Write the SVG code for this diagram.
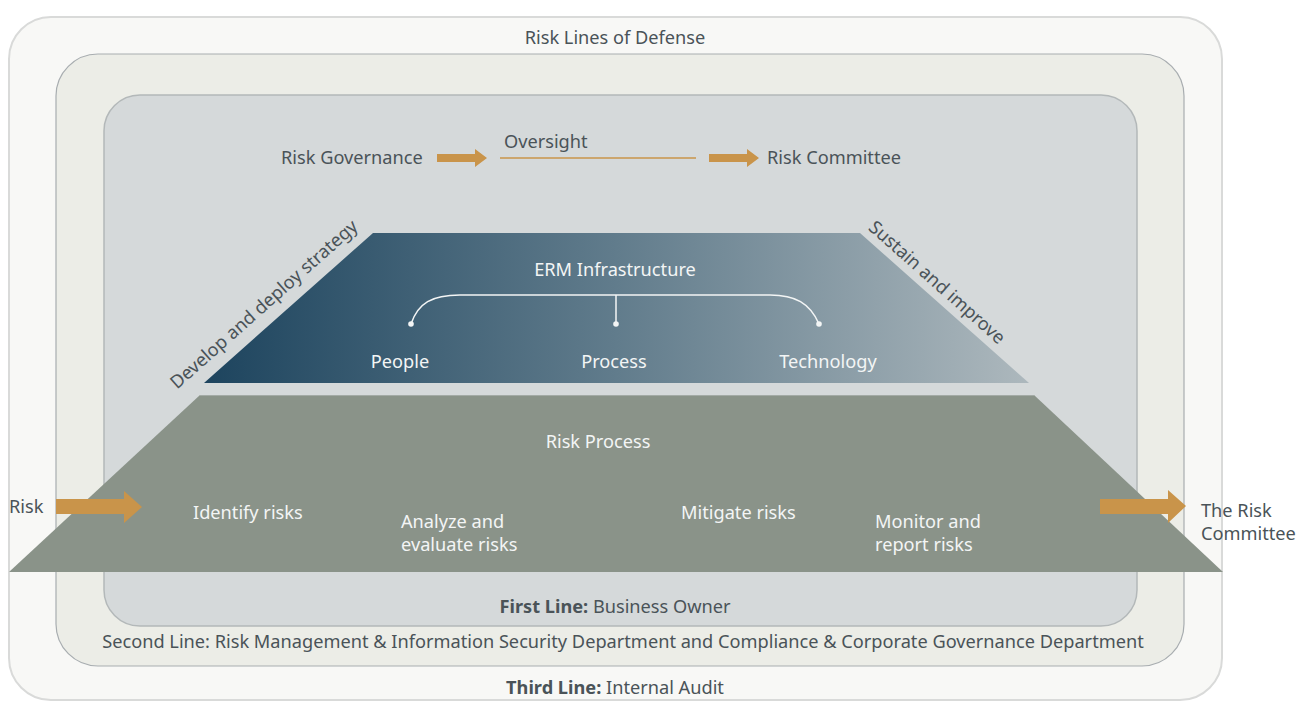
<svg xmlns="http://www.w3.org/2000/svg" width="1298" height="702" viewBox="0 0 1298 702">
<defs>
<style>
text{font-family:"Noto Sans","Open Sans","DejaVu Sans",sans-serif;font-size:18.2px;fill:#4a5358}
.w{fill:#f3f5f5}
.c{text-anchor:middle}
.b{font-weight:bold}
.arrow{fill:#c9944a}
.wl{fill:none;stroke:#f3f5f5;stroke-width:1.5}
</style>
<linearGradient id="erm" x1="204" y1="0" x2="1029" y2="0" gradientUnits="userSpaceOnUse">
<stop offset="0" stop-color="#1d445e"/>
<stop offset="0.5" stop-color="#617c8c"/>
<stop offset="1" stop-color="#adb8bd"/>
</linearGradient>
</defs>
<rect width="1298" height="702" fill="#ffffff"/>
<g id="third-line">
<rect x="9" y="17" width="1213" height="683" rx="42" fill="#f8f8f6" stroke="#d9dad9" stroke-width="2"/>
<text class="c" x="615" y="44">Risk Lines of Defense</text>
<text class="c" x="615" y="694"><tspan class="b">Third Line:</tspan> Internal Audit</text>
</g>
<g id="second-line">
<rect x="56" y="54" width="1128" height="612" rx="42" fill="#ecede7" stroke="#a8adb0" stroke-width="1.2"/>
<text class="c" x="623" y="648">Second Line: Risk Management &amp; Information Security Department and Compliance &amp; Corporate Governance Department</text>
</g>
<g id="first-line">
<rect x="104" y="95" width="1033" height="531" rx="36" fill="#d5d9da" stroke="#b3b8b9" stroke-width="1.5"/>
<text class="c" x="615" y="613"><tspan class="b">First Line:</tspan> Business Owner</text>
</g>
<g id="governance">
<text x="281" y="164">Risk Governance</text>
<text x="504" y="148">Oversight</text>
<text x="767" y="164">Risk Committee</text>
</g>
<g id="erm-infrastructure">
<polygon points="373,233 860,233 1029,383 204,383" fill="url(#erm)"/>
<text class="w c" x="615" y="276">ERM Infrastructure</text>
<text class="w c" x="400" y="368">People</text>
<text class="w c" x="614" y="368">Process</text>
<text class="w c" x="828" y="368">Technology</text>
<path class="wl" d="M411,324 C418,303 432,295 460,295 L770,295 C795,295 810,303 819,324 M616,295 L616,324"/>
<circle cx="411" cy="324" r="2.8" fill="#f3f5f5"/>
<circle cx="616" cy="324" r="2.8" fill="#f3f5f5"/>
<circle cx="819" cy="324" r="2.8" fill="#f3f5f5"/>
</g>
<g id="strategy-labels">
<text class="c" transform="translate(268,309) rotate(-41.6)">Develop and deploy strategy</text>
<text class="c" transform="translate(933,287) rotate(41.6)">Sustain and improve</text>
</g>
<g id="risk-process">
<polygon points="200,395 1034,395 1223,572 9,572" fill="#8a9389"/>
<line x1="200" y1="395.5" x2="1034" y2="395.5" stroke="#a3aaa5" stroke-width="1"/>
<text class="w c" x="598" y="448">Risk Process</text>
<text class="w" x="193" y="519">Identify risks</text>
<text class="w" x="401" y="528">Analyze and</text>
<text class="w" x="401" y="551">evaluate risks</text>
<text class="w" x="681" y="519">Mitigate risks</text>
<text class="w" x="875" y="528">Monitor and</text>
<text class="w" x="875" y="551">report risks</text>
</g>
<g id="risk-input">
<text x="9" y="513">Risk</text>
</g>
<g id="risk-output">
<text x="1201" y="517">The Risk</text>
<text x="1201" y="540">Committee</text>
</g>
<g id="connectors">
<polygon class="arrow" points="437,154 475,154 475,149 487,158 475,167 475,162 437,162"/>
<line x1="500" y1="158" x2="696" y2="158" stroke="#c9944a" stroke-width="1.5"/>
<polygon class="arrow" points="709,154 747,154 747,149 759,158 747,167 747,162 709,162"/>
<polygon class="arrow" points="56,499 124,499 124,491 142,507 124,523 124,514 56,514"/>
<polygon class="arrow" points="1100,499 1168,499 1168,490 1186,506 1168,523 1168,514 1100,514"/>
</g>
</svg>
